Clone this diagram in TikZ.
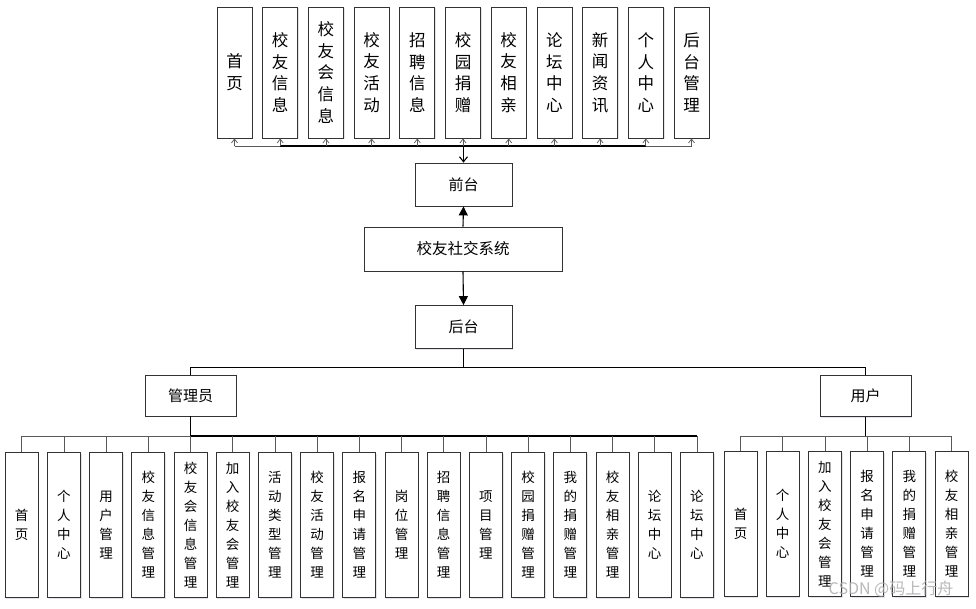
\documentclass[tikz,border=0pt]{standalone}
\usepackage{fontspec}
\newfontfamily\cjk{Noto Sans CJK SC}
\usetikzlibrary{arrows.meta,shadows}
\begin{document}
\begin{tikzpicture}[x=1pt,y=-1pt,
  box/.style={draw=black!80,line width=0.8pt,fill=white,inner sep=0pt,align=center,
    drop shadow={shadow xshift=1.2pt,shadow yshift=-1.2pt,fill=blue!20!gray!30,opacity=0.6}},
  topbox/.style={box,minimum width=35pt,minimum height=131pt,font=\cjk\fontsize{16.5}{21.7}\selectfont},
  botbox/.style={box,minimum width=33pt,minimum height=145pt,font=\cjk\fontsize{13.5}{19}\selectfont},
  midbox/.style={box,minimum width=97pt,minimum height=43pt,font=\cjk\fontsize{15}{18}\selectfont},
  rolebox/.style={box,minimum width=91pt,minimum height=41pt,font=\cjk\fontsize{15}{18}\selectfont},
  thin/.style={draw=black!65,line width=0.7pt},
  main/.style={draw=black,line width=1.1pt},
  tarrow/.style={thin,-{Straight Barb[length=4pt,width=6pt]}},
  bigarrow/.style={main,-{Triangle[length=9pt,width=9pt]}}
]
\useasboundingbox (0,0) rectangle (976,608);
\fill[white] (0,0) rectangle (976,608);

% top row
\foreach \t [count=\i] in {{首\\页},{校\\友\\信\\息},{校\\友\\会\\信\\息},{校\\友\\活\\动},{招\\聘\\信\\息},{校\\园\\捐\\赠},{校\\友\\相\\亲},{论\\坛\\中\\心},{新\\闻\\资\\讯},{个\\人\\中\\心},{后\\台\\管\\理}}
  \node[topbox] (t\i) at ({234.5+45.7*(\i-1)},72.5) {\t};

\node[midbox] (qt) at (463.5,184.5) {前台};
\node[box,minimum width=198pt,minimum height=44pt,font=\cjk\fontsize{15.5}{18}\selectfont] (sys) at (463,249) {校友社交系统};
\node[midbox] (ht) at (463.5,327) {后台};

\coordinate (tb) at (463.5,146);
\draw[thin] (t1.south|-tb) -- (t11.south|-tb);
\draw[main] (t2.south|-tb) -- (t10.south|-tb);
\foreach \i in {1,...,11} \draw[tarrow] (t\i.south|-tb) -- (t\i.south);
\draw[main,-{Straight Barb[length=5pt,width=8pt]}] (tb) -- (qt.north);

\draw[bigarrow] (sys.north) -- (qt.south);
\draw[bigarrow] (sys.south) -- (ht.north);

% roles
\node[rolebox] (gly) at (190.5,395.5) {管理员};
\node[rolebox] (yh) at (865.5,396) {用户};
\coordinate (mb) at (463.5,367);
\draw[main] (ht.south) -- (mb);
\draw[line width=0.9pt] (gly.north) -- (gly.north|-mb) -- (yh.north|-mb) -- (yh.north);

% admin children
\foreach \t [count=\i] in {{首\\页},{个\\人\\中\\心},{用\\户\\管\\理},{校\\友\\信\\息\\管\\理},{校\\友\\会\\信\\息\\管\\理},{加\\入\\校\\友\\会\\管\\理},{活\\动\\类\\型\\管\\理},{校\\友\\活\\动\\管\\理},{报\\名\\申\\请\\管\\理},{岗\\位\\管\\理},{招\\聘\\信\\息\\管\\理},{项\\目\\管\\理},{校\\园\\捐\\赠\\管\\理},{我\\的\\捐\\赠\\管\\理},{校\\友\\相\\亲\\管\\理},{论\\坛\\中\\心},{论\\坛\\中\\心}}
  \node[botbox] (a\i) at ({21.7+42.2*(\i-1)},525) {\t};
\coordinate (ab) at (190.5,436);
\draw[thin] (a1.north|-ab) -- (a17.north|-ab);
\draw[main] (gly.south) -- (ab) -- (a17.north|-ab);
\foreach \i in {1,...,17} \draw[thin] (a\i.north|-ab) -- (a\i.north);

% user children
\foreach \t [count=\i] in {{首\\页},{个\\人\\中\\心},{加\\入\\校\\友\\会\\管\\理},{报\\名\\申\\请\\管\\理},{我\\的\\捐\\赠\\管\\理},{校\\友\\相\\亲\\管\\理}}
  \node[botbox] (u\i) at ({740.5+42.2*(\i-1)},524) {\t};
\coordinate (ub) at (865.5,436);
\draw[thin] (u1.north|-ub) -- (u6.north|-ub);
\draw[main] (yh.south) -- (ub);
\foreach \i in {1,...,6} \draw[thin] (u\i.north|-ub) -- (u\i.north);

% watermark
\node[font=\cjk\fontsize{16}{18}\selectfont,text=gray!65,opacity=0.85,inner sep=0pt] (wm) at (891,589) {CSDN @码上行舟};
\end{tikzpicture}
\end{document}
